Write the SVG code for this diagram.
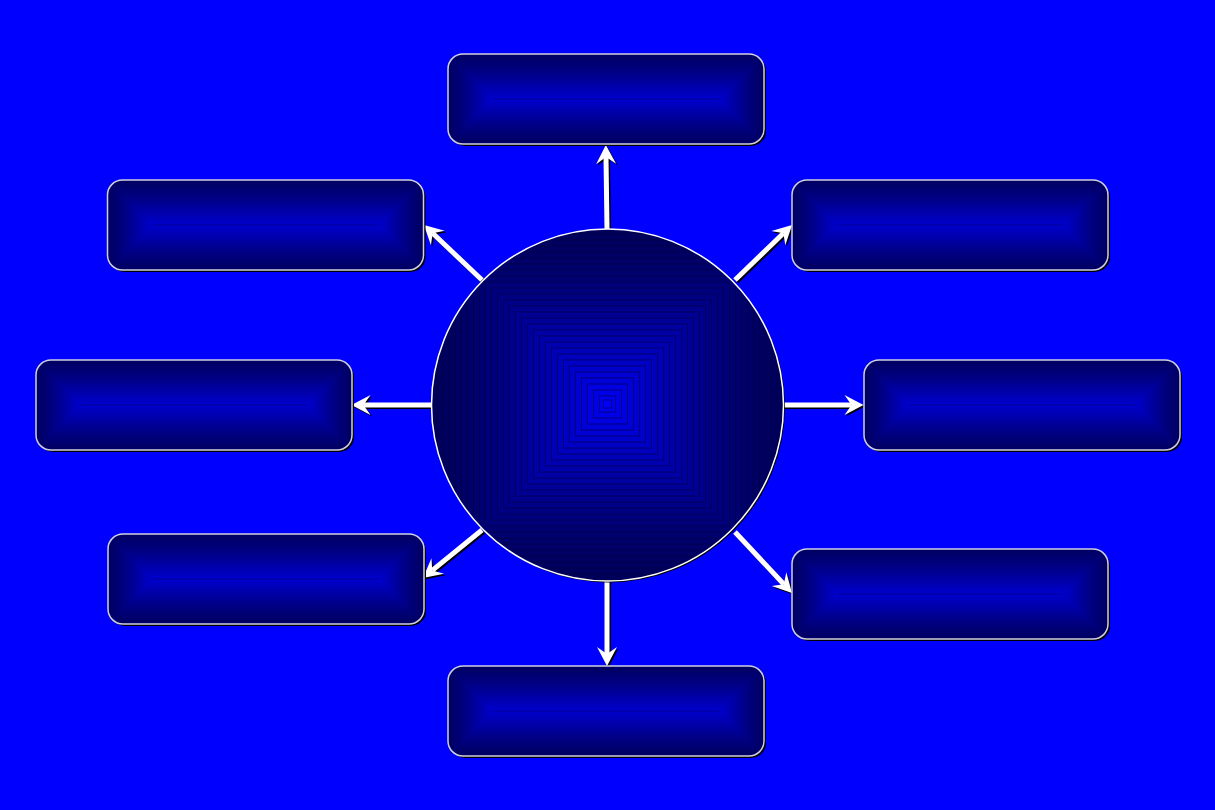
<svg xmlns="http://www.w3.org/2000/svg" xmlns:xlink="http://www.w3.org/1999/xlink" width="1215" height="810" viewBox="0 0 1215 810">
<style>
.bg{fill:#0000ff}
.ar{fill:none;stroke:#ffffff;stroke-width:5;stroke-linecap:butt}
.sh{fill:none;stroke:#000000;stroke-width:5;stroke-linecap:butt}
.sq{stroke:#000040;stroke-opacity:0.6;stroke-width:1}
</style>
<defs>
<marker id="hw" viewBox="-21 -11 23 22" refX="-12" refY="0" markerWidth="23" markerHeight="22" markerUnits="userSpaceOnUse" orient="auto">
<path d="M0,0 L-19,-10 L-12,0 L-19,10 Z" fill="#ffffff"/>
</marker>
<marker id="hb" viewBox="-21 -11 23 22" refX="-12" refY="0" markerWidth="23" markerHeight="22" markerUnits="userSpaceOnUse" orient="auto">
<path d="M0,0 L-19,-10 L-12,0 L-19,10 Z" fill="#000000"/>
</marker>
<clipPath id="cc"><circle cx="607.5" cy="405" r="176"/></clipPath>
<g id="box">
<rect x="2" y="2" width="316" height="90" rx="15" fill="#000000"/>
<rect x="0" y="0" width="316" height="90" rx="15" fill="#000064"/>
<rect x="3" y="3" width="310" height="84" fill="#000068"/>
<rect x="6" y="6" width="304" height="78" fill="#00006e"/>
<rect x="9" y="9" width="298" height="72" fill="#000074"/>
<rect x="12" y="12" width="292" height="66" fill="#00007b"/>
<rect x="15" y="15" width="286" height="60" fill="#000081"/>
<rect x="18" y="18" width="280" height="54" fill="#000089"/>
<rect x="21" y="21" width="274" height="48" fill="#000090"/>
<rect x="24" y="24" width="268" height="42" fill="#000098"/>
<rect x="27" y="27" width="262" height="36" fill="#0000a0"/>
<rect x="30" y="30" width="256" height="30" fill="#0000a8"/>
<rect x="33" y="33" width="250" height="24" fill="#0000b0"/>
<rect x="36" y="36" width="244" height="18" fill="#0000b8"/>
<rect x="39" y="39" width="238" height="12" fill="#0000c1"/>
<rect x="42" y="42" width="232" height="6" fill="#0000c9"/>
<rect x="44" y="44" width="228" height="2" fill="#0000ce"/>
<line x1="45" y1="45" x2="271" y2="45" stroke="#000090" stroke-width="1"/>
<rect x="0" y="0" width="316" height="90" rx="15" fill="none" stroke="#d0d0e0" stroke-width="1.5"/>
</g>
</defs>
<rect class="bg" x="0" y="0" width="1215" height="810"/>

<g id="connectors">
<g transform="translate(1.5,1.5)">
<path class="sh" marker-end="url(#hb)" d="M607,229 L606,157"/>
<path class="sh" marker-end="url(#hb)" d="M482,280 L432.7,233.3"/>
<path class="sh" marker-end="url(#hb)" d="M735,280 L783.4,233.3"/>
<path class="sh" marker-end="url(#hb)" d="M432,405 L363.5,405"/>
<path class="sh" marker-end="url(#hb)" d="M783,405 L851.5,405"/>
<path class="sh" marker-end="url(#hb)" d="M482,530 L432.3,570.4"/>
<path class="sh" marker-end="url(#hb)" d="M735,532 L783.8,584.2"/>
<path class="sh" marker-end="url(#hb)" d="M607,581 L607,654"/>
</g>
<path class="ar" marker-end="url(#hw)" d="M607,229 L606,157"/>
<path class="ar" marker-end="url(#hw)" d="M482,280 L432.7,233.3"/>
<path class="ar" marker-end="url(#hw)" d="M735,280 L783.4,233.3"/>
<path class="ar" marker-end="url(#hw)" d="M432,405 L363.5,405"/>
<path class="ar" marker-end="url(#hw)" d="M783,405 L851.5,405"/>
<path class="ar" marker-end="url(#hw)" d="M482,530 L432.3,570.4"/>
<path class="ar" marker-end="url(#hw)" d="M735,532 L783.8,584.2"/>
<path class="ar" marker-end="url(#hw)" d="M607,581 L607,654"/>
</g>

<g id="center">
<circle cx="609" cy="406.5" r="176" fill="#000000"/>
<g clip-path="url(#cc)">
<rect class="sq" x="431.5" y="228" width="352" height="352" fill="#00005a"/>
<rect class="sq" x="437.5" y="234" width="340" height="340" fill="#00005c"/>
<rect class="sq" x="443.5" y="240" width="328" height="328" fill="#00005e"/>
<rect class="sq" x="449.5" y="246" width="316" height="316" fill="#000061"/>
<rect class="sq" x="455.5" y="252" width="304" height="304" fill="#000064"/>
<rect class="sq" x="461.5" y="258" width="292" height="292" fill="#000068"/>
<rect class="sq" x="467.5" y="264" width="280" height="280" fill="#00006b"/>
<rect class="sq" x="473.5" y="270" width="268" height="268" fill="#00006f"/>
<rect class="sq" x="479.5" y="276" width="256" height="256" fill="#000073"/>
<rect class="sq" x="485.5" y="282" width="244" height="244" fill="#000078"/>
<rect class="sq" x="491.5" y="288" width="232" height="232" fill="#00007d"/>
<rect class="sq" x="497.5" y="294" width="220" height="220" fill="#000082"/>
<rect class="sq" x="503.5" y="300" width="208" height="208" fill="#000087"/>
<rect class="sq" x="509.5" y="306" width="196" height="196" fill="#00008c"/>
<rect class="sq" x="515.5" y="312" width="184" height="184" fill="#000092"/>
<rect class="sq" x="521.5" y="318" width="172" height="172" fill="#000098"/>
<rect class="sq" x="527.5" y="324" width="160" height="160" fill="#00009e"/>
<rect class="sq" x="533.5" y="330" width="148" height="148" fill="#0000a4"/>
<rect class="sq" x="539.5" y="336" width="136" height="136" fill="#0000aa"/>
<rect class="sq" x="545.5" y="342" width="124" height="124" fill="#0000b0"/>
<rect class="sq" x="551.5" y="348" width="112" height="112" fill="#0000b7"/>
<rect class="sq" x="557.5" y="354" width="100" height="100" fill="#0000bd"/>
<rect class="sq" x="563.5" y="360" width="88" height="88" fill="#0000c4"/>
<rect class="sq" x="569.5" y="366" width="76" height="76" fill="#0000cb"/>
<rect class="sq" x="575.5" y="372" width="64" height="64" fill="#0000d2"/>
<rect class="sq" x="581.5" y="378" width="52" height="52" fill="#0000d9"/>
<rect class="sq" x="587.5" y="384" width="40" height="40" fill="#0000e0"/>
<rect class="sq" x="593.5" y="390" width="28" height="28" fill="#0000e7"/>
<rect class="sq" x="599.5" y="396" width="16" height="16" fill="#0000ee"/>
<rect class="sq" x="603.5" y="400" width="8" height="8" fill="#0000f8"/>
</g>
<circle cx="607.5" cy="405" r="176" fill="none" stroke="#ffffff" stroke-width="1.5"/>
</g>

<g id="node-top" transform="translate(448,54)"><use xlink:href="#box"/></g>
<g id="node-upper-left" transform="translate(107.5,180)"><use xlink:href="#box"/></g>
<g id="node-upper-right" transform="translate(792,180)"><use xlink:href="#box"/></g>
<g id="node-left" transform="translate(36,360)"><use xlink:href="#box"/></g>
<g id="node-right" transform="translate(864,360)"><use xlink:href="#box"/></g>
<g id="node-lower-left" transform="translate(108,534)"><use xlink:href="#box"/></g>
<g id="node-lower-right" transform="translate(792,549)"><use xlink:href="#box"/></g>
<g id="node-bottom" transform="translate(448,666)"><use xlink:href="#box"/></g>
</svg>
